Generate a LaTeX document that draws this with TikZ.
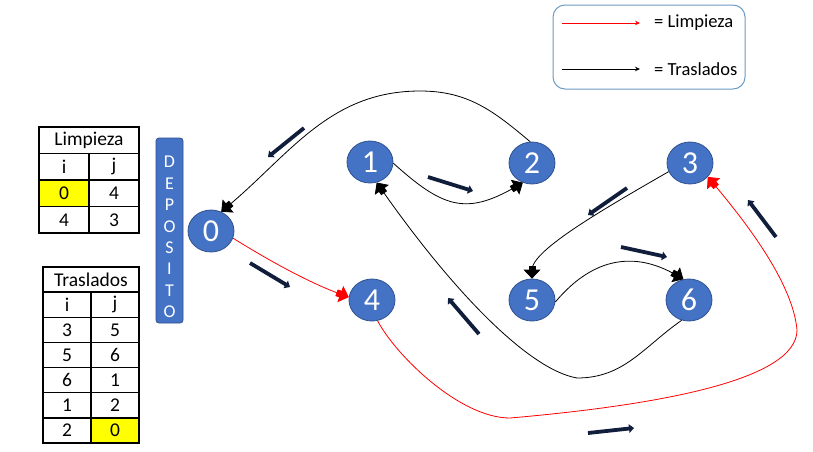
\documentclass[tikz,border=0pt]{standalone}
\usepackage{fontspec}
\setmainfont{Carlito}
\usetikzlibrary{shapes.geometric,arrows.meta}
\definecolor{nodeblue}{RGB}{68,114,196}
\definecolor{nodeedge}{RGB}{47,82,143}
\definecolor{navy}{RGB}{16,30,60}
\definecolor{legendedge}{RGB}{110,155,195}
\definecolor{cellyellow}{RGB}{255,255,0}
\begin{document}
\begin{tikzpicture}[x=1pt,y=1pt,
  stopnode/.style={ellipse, fill=nodeblue, draw=nodeedge, line width=0.8pt,
    minimum width=46pt, minimum height=42pt, inner sep=0pt, text=white,
    font=\fontsize{32}{34}\selectfont},
  depotbar/.style={rectangle, rounded corners=3pt, fill=nodeblue, draw=nodeedge,
    line width=0.8pt, minimum width=27pt, minimum height=185pt},
  depottext/.style={text=white, align=center, inner sep=0pt,
    font=\fontsize{18}{21.4}\selectfont},
  tabcell/.style={draw, line width=1.4pt, minimum width=50pt, minimum height=26.5pt,
    inner sep=0pt, font=\fontsize{19.5}{19.5}\selectfont},
  trcell/.style={tabcell, minimum width=48pt, minimum height=25.14pt},
  bigtip/.style={-{Rectangle[length=5pt,width=7pt,sep=-1pt]Triangle[length=9pt,width=17pt]}},
  trasl/.style={draw=black, line width=0.8pt, bigtip},
  limp/.style={draw=red, line width=0.8pt, bigtip},
  flow/.style={draw=navy, line width=3.8pt, -{Triangle[length=5pt,width=8.5pt]}},
  legendbox/.style={draw=legendedge, line width=1pt, rounded corners=12pt,
    minimum width=192pt, minimum height=84pt},
  legendtext/.style={anchor=west, inner sep=0pt, font=\fontsize{18.5}{18.5}\selectfont},
]
% canvas
\path[use as bounding box, fill=white] (0,0) rectangle (813,-451);

% legend
\node[legendbox] (legend) at (649,-47) {};
\coordinate (lra) at (562,-23);
\coordinate (lrb) at (640,-23);
\coordinate (lba) at (562,-69);
\coordinate (lbb) at (640,-69);
\draw[red, line width=0.8pt, -{Stealth[length=5pt,width=4.5pt]}] (lra) -- (lrb);
\draw[black, line width=0.8pt, -{Stealth[length=5pt,width=4.5pt]}] (lba) -- (lbb);
\node[legendtext] (leglimp) at (654,-23) {= Limpieza};
\node[legendtext] (legtras) at (654,-69) {= Traslados};

% table: Limpieza
\node[tabcell, minimum width=100pt] (lt) at (89,-140.25) {Limpieza};
\node[tabcell] (li) at (64,-166.75) {i};
\node[tabcell] (lj) at (114,-166.75) {j};
\node[tabcell, fill=cellyellow] (l1i) at (64,-193.25) {0};
\node[tabcell] (l1j) at (114,-193.25) {4};
\node[tabcell] (l2i) at (64,-219.75) {4};
\node[tabcell] (l2j) at (114,-219.75) {3};

% table: Traslados
\node[trcell, minimum width=96pt] (tt) at (91,-279.6) {Traslados};
\node[trcell] (ti) at (67,-304.7) {i};
\node[trcell] (tj) at (115,-304.7) {j};
\node[trcell] (t1i) at (67,-329.9) {3};
\node[trcell] (t1j) at (115,-329.9) {5};
\node[trcell] (t2i) at (67,-355.0) {5};
\node[trcell] (t2j) at (115,-355.0) {6};
\node[trcell] (t3i) at (67,-380.1) {6};
\node[trcell] (t3j) at (115,-380.1) {1};
\node[trcell] (t4i) at (67,-405.3) {1};
\node[trcell] (t4j) at (115,-405.3) {2};
\node[trcell] (t5i) at (67,-430.4) {2};
\node[trcell, fill=cellyellow] (t5j) at (115,-430.4) {0};

% depot
\node[depotbar] (dep) at (169.5,-230.5) {};
\node[depottext] (deplabel) at (169.5,-237) {D\\E\\P\\O\\S\\I\\T\\O};

% stops
\node[stopnode] (n0) at (211,-231) {0};
\node[stopnode] (n1) at (370,-162) {1};
\node[stopnode] (n2) at (532,-163) {2};
\node[stopnode] (n3) at (690,-163) {3};
\node[stopnode] (n4) at (372,-300) {4};
\node[stopnode] (n5) at (532,-300) {5};
\node[stopnode] (n6) at (689,-300) {6};

% cleaning route
\draw[limp] (n0.-18) .. controls +(-32:45) and +(160:40) .. (n4.173);
\draw[limp] (n4.-75) .. controls +(-62:40) and +(180:50) .. (510,-418)
  .. controls +(5:150) and +(-90:50) .. (797,-330)
  .. controls +(95:50) and +(-50:50) .. (n3.-38);

% transfer route
\draw[trasl] (n3.202) .. controls +(210:70) and +(90:29) .. (n5.north);
\draw[trasl] (n5.-5) .. controls +(50:60) and +(150:55) .. (n6.105);
\draw[trasl] (n6.-110) .. controls +(215:47) and +(0:47) .. (577,-378)
  .. controls +(170:50) and +(-55:130) .. (n1.-72);
\draw[trasl] (n1.-3) .. controls +(-42:66) and +(-150:66) .. (n2.-115);
\draw[trasl] (n2.95) .. controls +(140:48) and +(0:48) .. (420,-91)
  .. controls +(180:90) and +(40:90) .. (n0.62);

% direction markers
\coordinate (f1a) at (304,-128); \coordinate (f1b) at (268,-157);
\coordinate (f2a) at (250,-263); \coordinate (f2b) at (290,-287);
\coordinate (f3a) at (428,-177); \coordinate (f3b) at (473,-191);
\coordinate (f4a) at (627,-188); \coordinate (f4b) at (588,-215);
\coordinate (f5a) at (621,-247); \coordinate (f5b) at (667,-257);
\coordinate (f6a) at (479,-334); \coordinate (f6b) at (448,-298);
\coordinate (f7a) at (588,-433); \coordinate (f7b) at (634,-428);
\coordinate (f8a) at (776,-237); \coordinate (f8b) at (748,-200);
\foreach \k in {1,...,8} {\draw[flow] (f\k a) -- (f\k b);}
\end{tikzpicture}
\end{document}
